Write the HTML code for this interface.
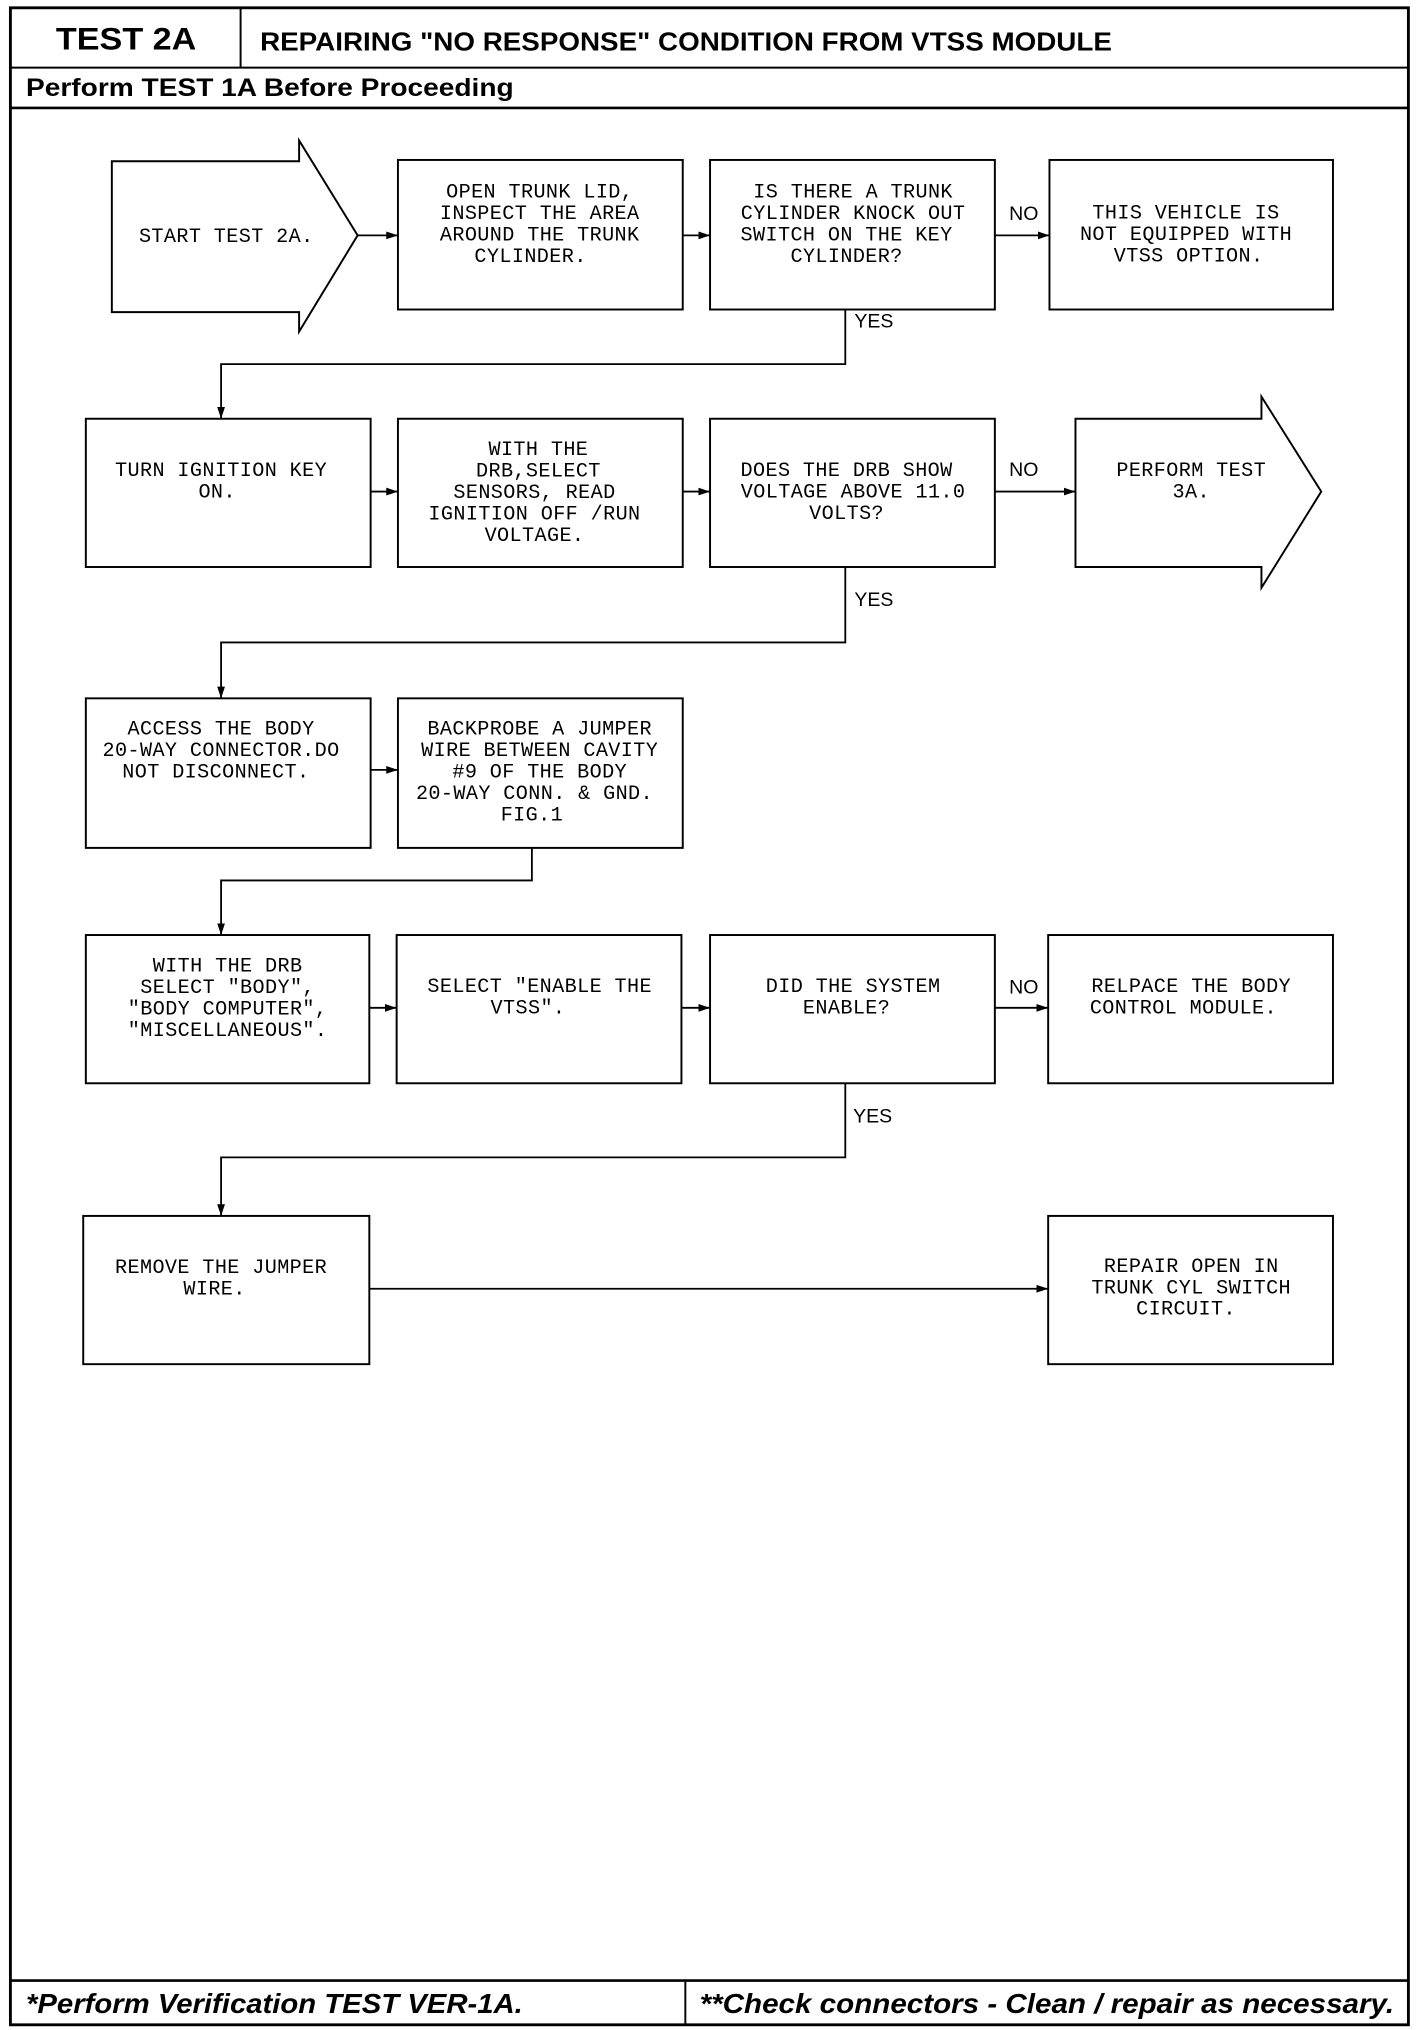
<!DOCTYPE html>
<html><head><meta charset="utf-8"><style>
html,body{margin:0;padding:0;background:#fff}
svg{display:block}
.t{font-family:"Liberation Mono",monospace;font-size:15.5px;fill:#000;text-anchor:middle;letter-spacing:0.3px}
.l{font-family:"Liberation Sans",sans-serif;font-size:15px;fill:#000}
.b{fill:none;stroke:#000;stroke-width:1.5}
.c{fill:none;stroke:#000;stroke-width:1.4}
</style></head><body>
<svg width="1424" height="2030" viewBox="0 0 1095 1561" preserveAspectRatio="none" xmlns="http://www.w3.org/2000/svg">
<defs><marker id="a" markerWidth="10" markerHeight="8" refX="9" refY="4" orient="auto" markerUnits="userSpaceOnUse"><path d="M0,1 L9,4 L0,7 Z" fill="#000"/></marker></defs>
<rect x="8" y="6" width="1075" height="1551" fill="none" stroke="#000" stroke-width="2.2"/>
<line x1="8" y1="52" x2="1083" y2="52" stroke="#000" stroke-width="1.5"/>
<line x1="185" y1="6" x2="185" y2="52" stroke="#000" stroke-width="1.5"/>
<line x1="8" y1="83" x2="1083" y2="83" stroke="#000" stroke-width="2"/>
<text x="97" y="38" font-family="Liberation Sans,sans-serif" font-weight="bold" font-size="24" text-anchor="middle" textLength="108" lengthAdjust="spacingAndGlyphs">TEST 2A</text>
<text x="200" y="39" font-family="Liberation Sans,sans-serif" font-weight="bold" font-size="20" textLength="655" lengthAdjust="spacingAndGlyphs">REPAIRING "NO RESPONSE" CONDITION FROM VTSS MODULE</text>
<text x="20" y="74" font-family="Liberation Sans,sans-serif" font-weight="bold" font-size="19" textLength="375" lengthAdjust="spacingAndGlyphs">Perform TEST 1A Before Proceeding</text>
<line x1="8" y1="1523" x2="1083" y2="1523" stroke="#000" stroke-width="2"/>
<line x1="527" y1="1523" x2="527" y2="1557" stroke="#000" stroke-width="1.5"/>
<text x="20" y="1548" font-family="Liberation Sans,sans-serif" font-weight="bold" font-style="italic" font-size="21" textLength="382" lengthAdjust="spacingAndGlyphs">*Perform Verification TEST VER-1A.</text>
<text x="538" y="1548" font-family="Liberation Sans,sans-serif" font-weight="bold" font-style="italic" font-size="21" textLength="534" lengthAdjust="spacingAndGlyphs">**Check connectors - Clean / repair as necessary.</text>

<path class="b" d="M86,124 H230 V108 L275,181 L230,255 V240 H86 Z"/>
<text class="t" x="174" y="186">START TEST 2A.</text>
<rect class="b" x="306" y="123" width="219" height="115"/>
<text class="t" x="415" y="152">OPEN TRUNK LID,</text><text class="t" x="415" y="168.5">INSPECT THE AREA</text><text class="t" x="415" y="185">AROUND THE TRUNK</text><text class="t" x="408" y="201.5">CYLINDER.</text>
<rect class="b" x="546" y="123" width="219" height="115"/>
<text class="t" x="656" y="152">IS THERE A TRUNK</text><text class="t" x="656" y="168.5">CYLINDER KNOCK OUT</text><text class="t" x="651" y="185">SWITCH ON THE KEY</text><text class="t" x="651" y="201.5">CYLINDER?</text>
<rect class="b" x="807" y="123" width="218" height="115"/>
<text class="t" x="912" y="168">THIS VEHICLE IS</text><text class="t" x="912" y="184.5">NOT EQUIPPED WITH</text><text class="t" x="914" y="201">VTSS OPTION.</text>
<line class="c" x1="275" y1="181" x2="306" y2="181" marker-end="url(#a)"/>
<line class="c" x1="525" y1="181" x2="546" y2="181" marker-end="url(#a)"/>
<line class="c" x1="765" y1="181" x2="807" y2="181" marker-end="url(#a)"/>
<text class="l" x="776" y="169">NO</text>
<path class="c" d="M650,238 V280 H170 V322" marker-end="url(#a)"/>
<text class="l" x="657" y="252">YES</text>

<rect class="b" x="66" y="322" width="219" height="114"/>
<text class="t" x="170" y="366">TURN IGNITION KEY</text><text class="t" x="167" y="382.5">ON.</text>
<rect class="b" x="306" y="322" width="219" height="114"/>
<text class="t" x="414" y="350">WITH THE</text><text class="t" x="414" y="366.5">DRB,SELECT</text><text class="t" x="411" y="383">SENSORS, READ</text><text class="t" x="411" y="399.5">IGNITION OFF /RUN</text><text class="t" x="411" y="416">VOLTAGE.</text>
<rect class="b" x="546" y="322" width="219" height="114"/>
<text class="t" x="651" y="366">DOES THE DRB SHOW</text><text class="t" x="656" y="382.5">VOLTAGE ABOVE 11.0</text><text class="t" x="651" y="399">VOLTS?</text>
<path class="b" d="M827,322 H970 V305 L1016,378 L970,452 V436 H827 Z"/>
<text class="t" x="916" y="366">PERFORM TEST</text><text class="t" x="916" y="382.5">3A.</text>
<line class="c" x1="285" y1="378" x2="306" y2="378" marker-end="url(#a)"/>
<line class="c" x1="525" y1="378" x2="546" y2="378" marker-end="url(#a)"/>
<line class="c" x1="765" y1="378" x2="827" y2="378" marker-end="url(#a)"/>
<text class="l" x="776" y="366">NO</text>
<path class="c" d="M650,436 V494 H170 V537" marker-end="url(#a)"/>
<text class="l" x="657" y="466">YES</text>

<rect class="b" x="66" y="537" width="219" height="115"/>
<text class="t" x="170" y="565">ACCESS THE BODY</text><text class="t" x="170" y="581.5">20-WAY CONNECTOR.DO</text><text class="t" x="166" y="598">NOT DISCONNECT.</text>
<rect class="b" x="306" y="537" width="219" height="115"/>
<text class="t" x="415" y="565">BACKPROBE A JUMPER</text><text class="t" x="415" y="581.5">WIRE BETWEEN CAVITY</text><text class="t" x="415" y="598">#9 OF THE BODY</text><text class="t" x="411" y="614.5">20-WAY CONN. &amp; GND.</text><text class="t" x="409" y="631">FIG.1</text>
<line class="c" x1="285" y1="592" x2="306" y2="592" marker-end="url(#a)"/>
<path class="c" d="M409,652 V677 H170 V719" marker-end="url(#a)"/>

<rect class="b" x="66" y="719" width="218" height="114"/>
<text class="t" x="175" y="747">WITH THE DRB</text><text class="t" x="175" y="763.5">SELECT "BODY",</text><text class="t" x="175" y="780">"BODY COMPUTER",</text><text class="t" x="175" y="796.5">"MISCELLANEOUS".</text>
<rect class="b" x="305" y="719" width="219" height="114"/>
<text class="t" x="415" y="763">SELECT "ENABLE THE</text><text class="t" x="406" y="779.5">VTSS".</text>
<rect class="b" x="546" y="719" width="219" height="114"/>
<text class="t" x="656" y="763">DID THE SYSTEM</text><text class="t" x="651" y="779.5">ENABLE?</text>
<rect class="b" x="806" y="719" width="219" height="114"/>
<text class="t" x="916" y="763">RELPACE THE BODY</text><text class="t" x="910" y="779.5">CONTROL MODULE.</text>
<line class="c" x1="284" y1="775" x2="305" y2="775" marker-end="url(#a)"/>
<line class="c" x1="524" y1="775" x2="546" y2="775" marker-end="url(#a)"/>
<line class="c" x1="765" y1="775" x2="806" y2="775" marker-end="url(#a)"/>
<text class="l" x="776" y="764">NO</text>
<path class="c" d="M650,833 V890 H170 V935" marker-end="url(#a)"/>
<text class="l" x="656" y="863">YES</text>

<rect class="b" x="64" y="935" width="220" height="114"/>
<text class="t" x="170" y="979">REMOVE THE JUMPER</text><text class="t" x="165" y="995.5">WIRE.</text>
<rect class="b" x="806" y="935" width="219" height="114"/>
<text class="t" x="916" y="978">REPAIR OPEN IN</text><text class="t" x="916" y="994.5">TRUNK CYL SWITCH</text><text class="t" x="912" y="1011">CIRCUIT.</text>
<line class="c" x1="284" y1="991" x2="806" y2="991" marker-end="url(#a)"/>
</svg>
</body></html>
